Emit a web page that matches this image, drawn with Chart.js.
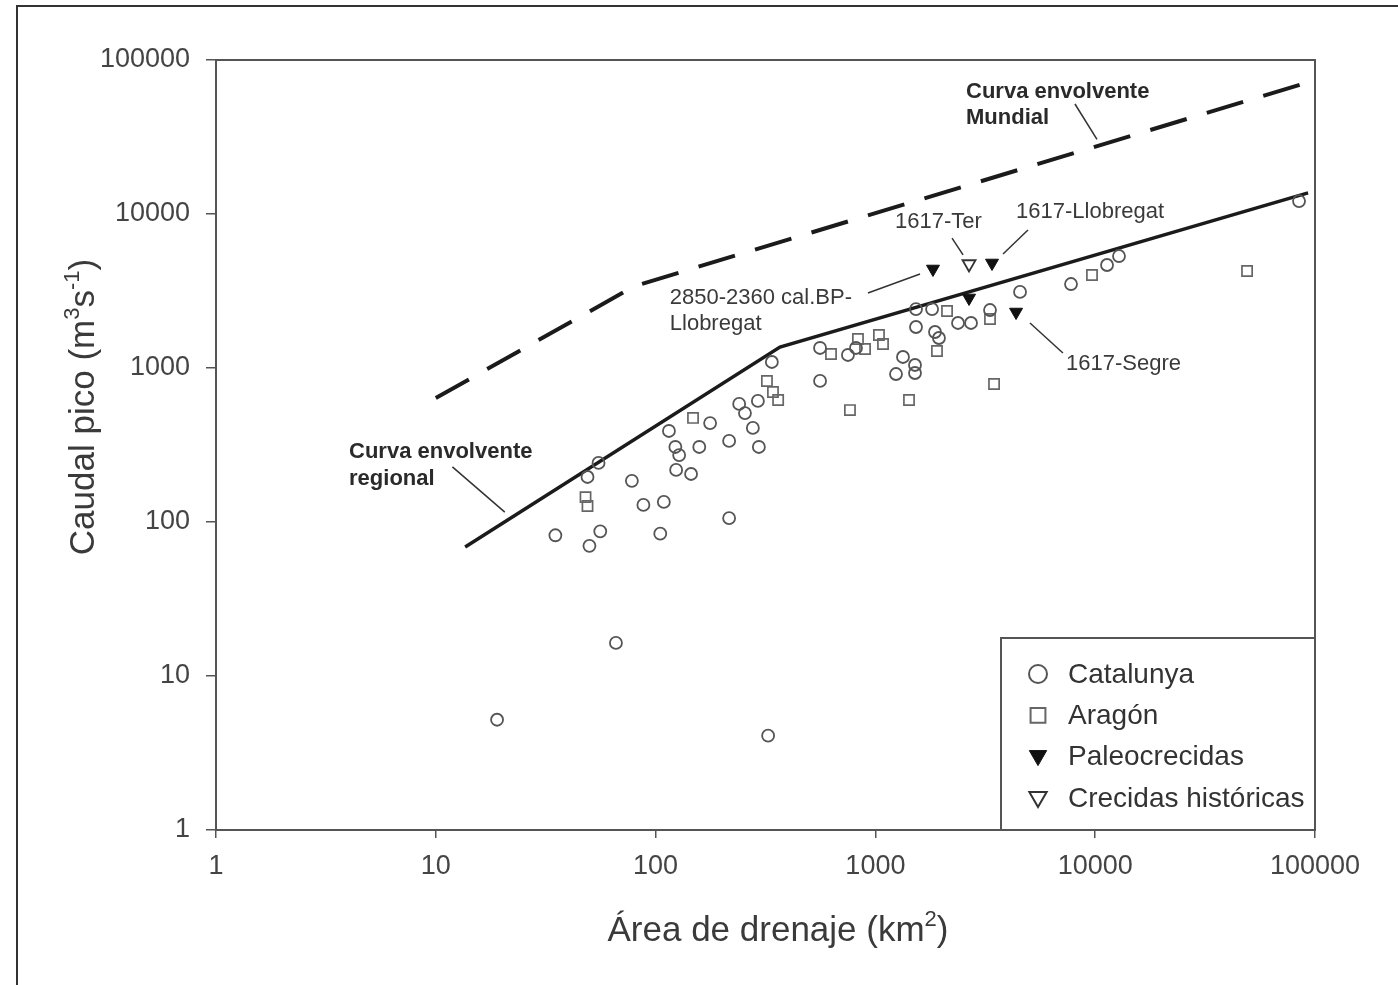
<!DOCTYPE html>
<html>
<head>
<meta charset="utf-8">
<script src="https://cdn.jsdelivr.net/npm/chart.js@4.4.1/dist/chart.umd.min.js"></script>
<style>
  html, body { margin: 0; padding: 0; background: #ffffff; }
  #wrap { position: relative; width: 1398px; height: 985px; overflow: hidden; }
  canvas { display: block; }
</style>
</head>
<body>
<div id="wrap"><canvas id="c" width="1398" height="985"></canvas></div>
<script>
// Decade ticks shared by both log axes
const decadeTicks = [1, 10, 100, 1000, 10000, 100000];

// Envelope curves (area km², peak discharge m³/s)
const mundialArea = [10, 80, 100000];
const mundialPeak = [638, 3400, 74000];
const regionalArea = [13.6, 368, 93000];
const regionalPeak = [68.8, 1368, 13700];

// Catalunya gauged floods
const catalunyaArea = [19, 325, 66, 35, 50, 56, 49, 55, 78, 88, 109, 105, 216, 115, 123, 128,
  124, 145, 158, 177, 216, 240, 255, 292, 277, 295, 338, 560, 560, 750, 816, 1335, 1241,
  1514, 1514, 1530, 1811, 1530, 1867, 1946, 2376, 2723, 3322, 4550, 7762, 11320, 12830, 84600];
const catalunyaPeak = [5.2, 4.1, 16.4, 82, 70, 87, 196, 242, 185, 129, 135, 84, 106, 390, 307, 272,
  218, 205, 307, 439, 336, 584, 510, 611, 408, 307, 1094, 824, 1349, 1215, 1349, 1179, 914,
  1046, 928, 2415, 2415, 1846, 1713, 1566, 1960, 1960, 2380, 3117, 3510, 4665, 5335, 12140];

// Aragón gauged floods
const aragonArea = [48, 49, 148, 321, 342, 361, 628, 833, 897, 766, 1038, 1083, 1422, 2118,
  1906, 3322, 3466, 9670, 49080];
const aragonPeak = [145, 127, 474, 824, 698, 620, 1233, 1542, 1328, 533, 1638, 1431, 620, 2345,
  1290, 2080, 787, 4017, 4266];

// Palaeofloods and historical floods
const paleoArea = [1828, 3393, 2667, 4365];
const paleoPeak = [4396, 4808, 2850, 2310];
const historicArea = [2667];
const historicPeak = [4735];

const zip = (xs, ys) => xs.map((x, i) => ({ x: x, y: ys[i] }));

const FONT = '"Liberation Sans", Arial, Helvetica, sans-serif';
const INK = '#1b1b1b';
const GREY = '#444444';

// Text callouts with leader lines, positioned in data space
const callouts = [
  { lines: ['Curva envolvente', 'Mundial'], bold: true, at: [2584, 61960], dy: 26,
    leader: [[8090, 51800], [10190, 30500]] },
  { lines: ['Curva envolvente', 'regional'], bold: true, at: [4.03, 285], dy: 27,
    leader: [[11.9, 228], [20.6, 116]] },
  { lines: ['1617-Ter'], bold: false, at: [1228, 8870], dy: 0,
    leader: [[2232, 6980], [2505, 5420]] },
  { lines: ['1617-Llobregat'], bold: false, at: [4363, 10300], dy: 0,
    leader: [[4945, 7870], [3808, 5500]] },
  { lines: ['2850-2360 cal.BP-', 'Llobregat'], bold: false, at: [116, 2850], dy: 26,
    leader: [[925, 3069], [1596, 4075]] },
  { lines: ['1617-Segre'], bold: false, at: [7364, 1062], dy: 0,
    leader: [[5050, 1960], [7130, 1251]] }
];

const legendItems = [
  { text: 'Catalunya', style: 'circle', r: 9, rot: 0, fill: 'rgba(0,0,0,0)', stroke: '#555', w: 2 },
  { text: 'Aragón', style: 'rect', r: 10.5, rot: 0, fill: 'rgba(0,0,0,0)', stroke: '#666', w: 2 },
  { text: 'Paleocrecidas', style: 'triangle', r: 10, rot: 180, fill: '#111', stroke: '#111', w: 1 },
  { text: 'Crecidas históricas', style: 'triangle', r: 10, rot: 180, fill: '#fff', stroke: '#333', w: 2 }
];

function drawRich(ctx, segs, size, x, y, align) {
  let total = 0;
  for (const s of segs) {
    ctx.font = (s.sup ? Math.round(size * 0.62) : size) + 'px ' + FONT;
    total += ctx.measureText(s.t).width;
  }
  let cx = align === 'center' ? x - total / 2 : x;
  ctx.textAlign = 'left';
  ctx.textBaseline = 'alphabetic';
  for (const s of segs) {
    ctx.font = (s.sup ? Math.round(size * 0.62) : size) + 'px ' + FONT;
    ctx.fillText(s.t, cx, s.sup ? y - size * 0.42 : y);
    cx += ctx.measureText(s.t).width;
  }
}

const decorations = {
  id: 'decorations',
  beforeDraw(chart) {
    const ctx = chart.ctx;
    ctx.save();
    ctx.fillStyle = '#ffffff';
    ctx.fillRect(0, 0, chart.width, chart.height);
    // outer frame
    ctx.strokeStyle = '#333';
    ctx.lineWidth = 2;
    ctx.beginPath();
    ctx.moveTo(17, chart.height);
    ctx.lineTo(17, 6);
    ctx.lineTo(chart.width, 6);
    ctx.stroke();
    ctx.restore();
  },
  beforeDatasetsDraw(chart) {
    const ctx = chart.ctx;
    const a = chart.chartArea;
    ctx.save();
    ctx.strokeStyle = '#555';
    ctx.lineWidth = 2;
    ctx.beginPath();
    ctx.moveTo(a.left, a.top);
    ctx.lineTo(a.right, a.top);
    ctx.lineTo(a.right, a.bottom);
    ctx.stroke();
    ctx.restore();
  },
  afterDatasetsDraw(chart) {
    const ctx = chart.ctx;
    const a = chart.chartArea;
    const xs = chart.scales.x, ys = chart.scales.y;
    ctx.save();

    // callouts
    for (const c of callouts) {
      ctx.strokeStyle = '#333';
      ctx.lineWidth = 1.5;
      ctx.beginPath();
      ctx.moveTo(xs.getPixelForValue(c.leader[0][0]), ys.getPixelForValue(c.leader[0][1]));
      ctx.lineTo(xs.getPixelForValue(c.leader[1][0]), ys.getPixelForValue(c.leader[1][1]));
      ctx.stroke();
      ctx.fillStyle = c.bold ? '#2a2a2a' : '#3a3a3a';
      ctx.font = (c.bold ? 'bold ' : '') + '22px ' + FONT;
      ctx.textAlign = 'left';
      ctx.textBaseline = 'middle';
      const px = xs.getPixelForValue(c.at[0]);
      const py = ys.getPixelForValue(c.at[1]);
      c.lines.forEach((t, i) => ctx.fillText(t, px, py + i * c.dy));
    }

    // legend box, lower right corner of the plot
    const bx = a.right - 314, by = a.bottom - 192;
    ctx.fillStyle = '#fff';
    ctx.fillRect(bx, by, a.right - bx, a.bottom - by);
    ctx.strokeStyle = '#555';
    ctx.lineWidth = 2;
    ctx.strokeRect(bx, by, a.right - bx, a.bottom - by);
    legendItems.forEach((it, i) => {
      const cy = by + 36 + i * 41.3;
      ctx.fillStyle = it.fill;
      ctx.strokeStyle = it.stroke;
      ctx.lineWidth = it.w;
      Chart.helpers.drawPoint(ctx, { pointStyle: it.style, radius: it.r, rotation: it.rot, borderWidth: it.w },
        bx + 37, cy + (it.style === 'triangle' ? -1 : 0));
      ctx.fillStyle = '#333';
      ctx.font = '28px ' + FONT;
      ctx.textAlign = 'left';
      ctx.textBaseline = 'middle';
      ctx.fillText(it.text, bx + 67, cy + 1);
    });

    // axis titles
    ctx.fillStyle = '#3a3a3a';
    drawRich(ctx, [{ t: 'Área de drenaje (km' }, { t: '2', sup: true }, { t: ')' }], 35, 778, 941, 'center');
    ctx.translate(94, 407);
    ctx.rotate(-Math.PI / 2);
    drawRich(ctx, [{ t: 'Caudal pico (m' }, { t: '3', sup: true }, { t: 's' }, { t: '-1', sup: true }, { t: ')' }],
      35, 0, 0, 'center');
    ctx.restore();
  }
};

const axisCommon = {
  type: 'logarithmic',
  min: 1,
  max: 100000,
  afterBuildTicks: (s) => { s.ticks = decadeTicks.map((v) => ({ value: v })); },
  grid: { drawOnChartArea: false, drawTicks: true, color: '#555', lineWidth: 1.5 },
  border: { display: true, color: '#555', width: 2 }
};

new Chart(document.getElementById('c').getContext('2d'), {
  type: 'scatter',
  data: {
    datasets: [
      { label: 'Catalunya', data: zip(catalunyaArea, catalunyaPeak), pointStyle: 'circle', pointRadius: 6,
        borderColor: '#555', backgroundColor: 'rgba(0,0,0,0)', borderWidth: 1.8, order: 1 },
      { label: 'Aragón', data: zip(aragonArea, aragonPeak), pointStyle: 'rect', pointRadius: 7.2,
        borderColor: '#666', backgroundColor: 'rgba(0,0,0,0)', borderWidth: 1.7, order: 1 },
      { label: 'Paleocrecidas', data: zip(paleoArea, paleoPeak), pointStyle: 'triangle', pointRadius: 7.5,
        pointRotation: 180, borderColor: '#111', backgroundColor: '#111', borderWidth: 1, order: 1 },
      { label: 'Crecidas históricas', data: zip(historicArea, historicPeak), pointStyle: 'triangle',
        pointRadius: 7.5, pointRotation: 180, borderColor: '#333', backgroundColor: '#fff', borderWidth: 1.8, order: 1 },
      { label: 'Curva envolvente Mundial', data: zip(mundialArea, mundialPeak), showLine: true, pointRadius: 0,
        borderColor: INK, borderWidth: 4, borderDash: [38, 21], order: 2 },
      { label: 'Curva envolvente regional', data: zip(regionalArea, regionalPeak), showLine: true, pointRadius: 0,
        borderColor: INK, borderWidth: 3.5, order: 2 }
    ]
  },
  options: {
    responsive: false,
    animation: false,
    devicePixelRatio: 1,
    layout: { padding: { top: 60, right: 83, left: 0, bottom: 0 } },
    plugins: { legend: { display: false }, tooltip: { enabled: false } },
    scales: {
      x: Object.assign({}, axisCommon, {
        position: 'bottom',
        afterFit: (s) => { s.height = 155; },
        grid: Object.assign({}, axisCommon.grid, { tickLength: 8 }),
        ticks: { color: GREY, font: { family: FONT, size: 27 }, padding: 12, maxRotation: 0,
          autoSkip: false, callback: (v) => String(v) }
      }),
      y: Object.assign({}, axisCommon, {
        position: 'left',
        afterFit: (s) => { s.width = 216; },
        grid: Object.assign({}, axisCommon.grid, { tickLength: 10 }),
        ticks: { color: GREY, font: { family: FONT, size: 27 }, padding: 16,
          autoSkip: false, callback: (v) => String(v) }
      })
    }
  },
  plugins: [decorations]
});
</script>
</body>
</html>
